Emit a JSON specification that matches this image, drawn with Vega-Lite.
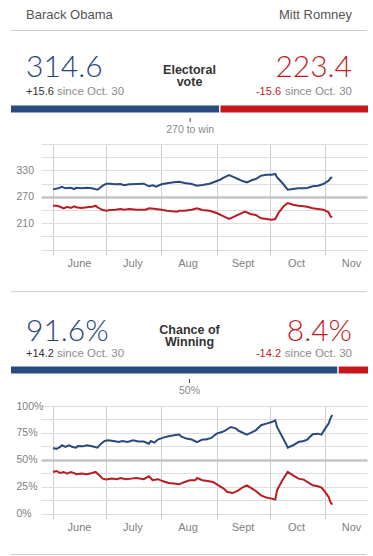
{
"$schema": "https://vega.github.io/schema/vega-lite/v6.json",
"padding": {"left": 7, "top": 0, "right": 0, "bottom": 0},
"background": "#ffffff",
"spacing": 0,
"resolve": {"scale": {"color": "independent"}},
"config": {"view": {"stroke": null}, "font": "Liberation Sans"},
"datasets": {
"header": [
{"candidate":"Obama","name":"Barack Obama","ev":314.6,"ev_change":"+15.6","win":0.916,"win_change":"+14.2"},
{"candidate":"Romney","name":"Mitt Romney","ev":223.4,"ev_change":"-15.6","win":0.084,"win_change":"-14.2"}
],
"ev": [
{"date":"2012-06-01","candidate":"Obama","value":287},{"date":"2012-06-04","candidate":"Obama","value":289.4},{"date":"2012-06-06","candidate":"Obama","value":293},{"date":"2012-06-08","candidate":"Obama","value":289.4},{"date":"2012-06-11","candidate":"Obama","value":290.8},{"date":"2012-06-13","candidate":"Obama","value":287.8},{"date":"2012-06-14","candidate":"Obama","value":290.8},{"date":"2012-06-17","candidate":"Obama","value":289.4},{"date":"2012-06-20","candidate":"Obama","value":290.8},{"date":"2012-06-23","candidate":"Obama","value":289.4},{"date":"2012-06-26","candidate":"Obama","value":286.2},{"date":"2012-06-29","candidate":"Obama","value":295.3},{"date":"2012-07-01","candidate":"Obama","value":299.9},{"date":"2012-07-03","candidate":"Obama","value":299.9},{"date":"2012-07-06","candidate":"Obama","value":298.5},{"date":"2012-07-09","candidate":"Obama","value":299.2},{"date":"2012-07-11","candidate":"Obama","value":296.2},{"date":"2012-07-14","candidate":"Obama","value":298.5},{"date":"2012-07-18","candidate":"Obama","value":299.2},{"date":"2012-07-22","candidate":"Obama","value":299.9},{"date":"2012-07-25","candidate":"Obama","value":294.0},{"date":"2012-07-27","candidate":"Obama","value":296.2},{"date":"2012-07-29","candidate":"Obama","value":293.0},{"date":"2012-08-01","candidate":"Obama","value":298.5},{"date":"2012-08-05","candidate":"Obama","value":301.4},{"date":"2012-08-08","candidate":"Obama","value":303.0},{"date":"2012-08-11","candidate":"Obama","value":304.4},{"date":"2012-08-14","candidate":"Obama","value":301.4},{"date":"2012-08-18","candidate":"Obama","value":299.2},{"date":"2012-08-21","candidate":"Obama","value":295.3},{"date":"2012-08-24","candidate":"Obama","value":296.9},{"date":"2012-08-28","candidate":"Obama","value":299.9},{"date":"2012-08-31","candidate":"Obama","value":304.4},{"date":"2012-09-03","candidate":"Obama","value":308.9},{"date":"2012-09-05","candidate":"Obama","value":313.5},{"date":"2012-09-08","candidate":"Obama","value":319.6},{"date":"2012-09-11","candidate":"Obama","value":314.4},{"date":"2012-09-13","candidate":"Obama","value":310.5},{"date":"2012-09-16","candidate":"Obama","value":305.3},{"date":"2012-09-18","candidate":"Obama","value":303.0},{"date":"2012-09-21","candidate":"Obama","value":308.3},{"date":"2012-09-23","candidate":"Obama","value":310.5},{"date":"2012-09-26","candidate":"Obama","value":318.0},{"date":"2012-09-29","candidate":"Obama","value":320.3},{"date":"2012-10-02","candidate":"Obama","value":320.3},{"date":"2012-10-04","candidate":"Obama","value":321.9},{"date":"2012-10-05","candidate":"Obama","value":314.4},{"date":"2012-10-08","candidate":"Obama","value":301.4},{"date":"2012-10-11","candidate":"Obama","value":286.2},{"date":"2012-10-14","candidate":"Obama","value":287.8},{"date":"2012-10-17","candidate":"Obama","value":289.4},{"date":"2012-10-20","candidate":"Obama","value":289.4},{"date":"2012-10-22","candidate":"Obama","value":290.1},{"date":"2012-10-25","candidate":"Obama","value":294.0},{"date":"2012-10-28","candidate":"Obama","value":295.3},{"date":"2012-10-31","candidate":"Obama","value":299.2},{"date":"2012-11-03","candidate":"Obama","value":306.7},{"date":"2012-11-04","candidate":"Obama","value":312.1},{"date":"2012-11-05","candidate":"Obama","value":314.6},
{"date":"2012-06-01","candidate":"Romney","value":250},{"date":"2012-06-03","candidate":"Romney","value":249.9},{"date":"2012-06-05","candidate":"Romney","value":247.6},{"date":"2012-06-07","candidate":"Romney","value":244.0},{"date":"2012-06-09","candidate":"Romney","value":247.6},{"date":"2012-06-11","candidate":"Romney","value":244.7},{"date":"2012-06-13","candidate":"Romney","value":248.5},{"date":"2012-06-14","candidate":"Romney","value":246.3},{"date":"2012-06-17","candidate":"Romney","value":244.7},{"date":"2012-06-20","candidate":"Romney","value":246.3},{"date":"2012-06-23","candidate":"Romney","value":247.6},{"date":"2012-06-25","candidate":"Romney","value":249.9},{"date":"2012-06-26","candidate":"Romney","value":246.3},{"date":"2012-06-29","candidate":"Romney","value":240.1},{"date":"2012-07-01","candidate":"Romney","value":238.5},{"date":"2012-07-03","candidate":"Romney","value":240.1},{"date":"2012-07-06","candidate":"Romney","value":240.8},{"date":"2012-07-09","candidate":"Romney","value":242.4},{"date":"2012-07-11","candidate":"Romney","value":240.8},{"date":"2012-07-14","candidate":"Romney","value":242.4},{"date":"2012-07-18","candidate":"Romney","value":240.8},{"date":"2012-07-23","candidate":"Romney","value":240.8},{"date":"2012-07-25","candidate":"Romney","value":244.0},{"date":"2012-07-29","candidate":"Romney","value":242.4},{"date":"2012-08-01","candidate":"Romney","value":240.8},{"date":"2012-08-04","candidate":"Romney","value":238.5},{"date":"2012-08-07","candidate":"Romney","value":237.2},{"date":"2012-08-10","candidate":"Romney","value":236.3},{"date":"2012-08-11","candidate":"Romney","value":238.5},{"date":"2012-08-14","candidate":"Romney","value":238.5},{"date":"2012-08-18","candidate":"Romney","value":240.8},{"date":"2012-08-21","candidate":"Romney","value":244.0},{"date":"2012-08-24","candidate":"Romney","value":240.1},{"date":"2012-08-28","candidate":"Romney","value":238.5},{"date":"2012-09-01","candidate":"Romney","value":233.3},{"date":"2012-09-05","candidate":"Romney","value":225.8},{"date":"2012-09-08","candidate":"Romney","value":219.7},{"date":"2012-09-10","candidate":"Romney","value":223.6},{"date":"2012-09-13","candidate":"Romney","value":229},{"date":"2012-09-17","candidate":"Romney","value":236.3},{"date":"2012-09-20","candidate":"Romney","value":231.1},{"date":"2012-09-23","candidate":"Romney","value":228.8},{"date":"2012-09-26","candidate":"Romney","value":221.3},{"date":"2012-09-29","candidate":"Romney","value":219.7},{"date":"2012-10-02","candidate":"Romney","value":218.1},{"date":"2012-10-04","candidate":"Romney","value":219.7},{"date":"2012-10-06","candidate":"Romney","value":234.9},{"date":"2012-10-09","candidate":"Romney","value":250.0},{"date":"2012-10-11","candidate":"Romney","value":256.0},{"date":"2012-10-14","candidate":"Romney","value":252.2},{"date":"2012-10-17","candidate":"Romney","value":250.0},{"date":"2012-10-20","candidate":"Romney","value":248.5},{"date":"2012-10-22","candidate":"Romney","value":247.6},{"date":"2012-10-25","candidate":"Romney","value":244.0},{"date":"2012-10-28","candidate":"Romney","value":242.4},{"date":"2012-10-31","candidate":"Romney","value":240.8},{"date":"2012-11-03","candidate":"Romney","value":234.9},{"date":"2012-11-04","candidate":"Romney","value":225.8},{"date":"2012-11-05","candidate":"Romney","value":223.4}
],
"chance": [
{"date":"2012-06-01","candidate":"Obama","value":61},{"date":"2012-06-03","candidate":"Obama","value":60.1},{"date":"2012-06-05","candidate":"Obama","value":61.9},{"date":"2012-06-06","candidate":"Obama","value":63.5},{"date":"2012-06-08","candidate":"Obama","value":61.9},{"date":"2012-06-10","candidate":"Obama","value":63.5},{"date":"2012-06-12","candidate":"Obama","value":61.9},{"date":"2012-06-14","candidate":"Obama","value":61.3},{"date":"2012-06-15","candidate":"Obama","value":62.8},{"date":"2012-06-18","candidate":"Obama","value":62.5},{"date":"2012-06-20","candidate":"Obama","value":63.5},{"date":"2012-06-23","candidate":"Obama","value":62.5},{"date":"2012-06-26","candidate":"Obama","value":61.3},{"date":"2012-06-28","candidate":"Obama","value":65.0},{"date":"2012-06-30","candidate":"Obama","value":67.5},{"date":"2012-07-02","candidate":"Obama","value":68.1},{"date":"2012-07-05","candidate":"Obama","value":67.5},{"date":"2012-07-08","candidate":"Obama","value":66.5},{"date":"2012-07-10","candidate":"Obama","value":67.5},{"date":"2012-07-13","candidate":"Obama","value":66.5},{"date":"2012-07-16","candidate":"Obama","value":68.1},{"date":"2012-07-19","candidate":"Obama","value":67},{"date":"2012-07-22","candidate":"Obama","value":67},{"date":"2012-07-25","candidate":"Obama","value":65.0},{"date":"2012-07-26","candidate":"Obama","value":67.5},{"date":"2012-07-28","candidate":"Obama","value":66.0},{"date":"2012-07-30","candidate":"Obama","value":68.8},{"date":"2012-08-02","candidate":"Obama","value":70.6},{"date":"2012-08-05","candidate":"Obama","value":71.8},{"date":"2012-08-08","candidate":"Obama","value":72.8},{"date":"2012-08-11","candidate":"Obama","value":73.4},{"date":"2012-08-12","candidate":"Obama","value":71.8},{"date":"2012-08-15","candidate":"Obama","value":69.7},{"date":"2012-08-18","candidate":"Obama","value":68.8},{"date":"2012-08-21","candidate":"Obama","value":66.5},{"date":"2012-08-24","candidate":"Obama","value":68.8},{"date":"2012-08-26","candidate":"Obama","value":68.8},{"date":"2012-08-29","candidate":"Obama","value":70.3},{"date":"2012-09-01","candidate":"Obama","value":74.3},{"date":"2012-09-04","candidate":"Obama","value":75.8},{"date":"2012-09-06","candidate":"Obama","value":77.4},{"date":"2012-09-09","candidate":"Obama","value":80.5},{"date":"2012-09-12","candidate":"Obama","value":79.0},{"date":"2012-09-13","candidate":"Obama","value":77.4},{"date":"2012-09-16","candidate":"Obama","value":74.9},{"date":"2012-09-18","candidate":"Obama","value":73.4},{"date":"2012-09-21","candidate":"Obama","value":75.8},{"date":"2012-09-23","candidate":"Obama","value":77.4},{"date":"2012-09-26","candidate":"Obama","value":82.1},{"date":"2012-09-29","candidate":"Obama","value":83.6},{"date":"2012-10-02","candidate":"Obama","value":85.1},{"date":"2012-10-04","candidate":"Obama","value":86.7},{"date":"2012-10-05","candidate":"Obama","value":80.5},{"date":"2012-10-08","candidate":"Obama","value":71.2},{"date":"2012-10-10","candidate":"Obama","value":65.0},{"date":"2012-10-11","candidate":"Obama","value":61.3},{"date":"2012-10-14","candidate":"Obama","value":63.5},{"date":"2012-10-17","candidate":"Obama","value":66.5},{"date":"2012-10-20","candidate":"Obama","value":67.5},{"date":"2012-10-22","candidate":"Obama","value":68.8},{"date":"2012-10-25","candidate":"Obama","value":73.7},{"date":"2012-10-28","candidate":"Obama","value":74.3},{"date":"2012-10-30","candidate":"Obama","value":73.4},{"date":"2012-11-01","candidate":"Obama","value":79.0},{"date":"2012-11-03","candidate":"Obama","value":83.6},{"date":"2012-11-04","candidate":"Obama","value":88.3},{"date":"2012-11-05","candidate":"Obama","value":91.6},
{"date":"2012-06-01","candidate":"Romney","value":38.7},{"date":"2012-06-03","candidate":"Romney","value":39.6},{"date":"2012-06-05","candidate":"Romney","value":37.7},{"date":"2012-06-07","candidate":"Romney","value":38.7},{"date":"2012-06-09","candidate":"Romney","value":37.2},{"date":"2012-06-11","candidate":"Romney","value":38.7},{"date":"2012-06-13","candidate":"Romney","value":37.7},{"date":"2012-06-14","candidate":"Romney","value":36.5},{"date":"2012-06-17","candidate":"Romney","value":37.2},{"date":"2012-06-20","candidate":"Romney","value":36.5},{"date":"2012-06-23","candidate":"Romney","value":37.7},{"date":"2012-06-25","candidate":"Romney","value":38.7},{"date":"2012-06-27","candidate":"Romney","value":35.6},{"date":"2012-06-29","candidate":"Romney","value":32.5},{"date":"2012-07-01","candidate":"Romney","value":31.6},{"date":"2012-07-04","candidate":"Romney","value":32.5},{"date":"2012-07-07","candidate":"Romney","value":32.0},{"date":"2012-07-09","candidate":"Romney","value":33.1},{"date":"2012-07-12","candidate":"Romney","value":32.0},{"date":"2012-07-15","candidate":"Romney","value":32.5},{"date":"2012-07-18","candidate":"Romney","value":33.1},{"date":"2012-07-22","candidate":"Romney","value":32.0},{"date":"2012-07-25","candidate":"Romney","value":34.7},{"date":"2012-07-27","candidate":"Romney","value":31.0},{"date":"2012-07-30","candidate":"Romney","value":32.0},{"date":"2012-08-02","candidate":"Romney","value":30.0},{"date":"2012-08-05","candidate":"Romney","value":28.4},{"date":"2012-08-08","candidate":"Romney","value":27.9},{"date":"2012-08-11","candidate":"Romney","value":27.2},{"date":"2012-08-14","candidate":"Romney","value":29.4},{"date":"2012-08-17","candidate":"Romney","value":31.0},{"date":"2012-08-20","candidate":"Romney","value":31.0},{"date":"2012-08-21","candidate":"Romney","value":33.1},{"date":"2012-08-24","candidate":"Romney","value":31.0},{"date":"2012-08-27","candidate":"Romney","value":30.3},{"date":"2012-08-30","candidate":"Romney","value":29.4},{"date":"2012-09-02","candidate":"Romney","value":26.3},{"date":"2012-09-05","candidate":"Romney","value":23.2},{"date":"2012-09-07","candidate":"Romney","value":20.1},{"date":"2012-09-10","candidate":"Romney","value":19.1},{"date":"2012-09-13","candidate":"Romney","value":21.3},{"date":"2012-09-16","candidate":"Romney","value":24.7},{"date":"2012-09-18","candidate":"Romney","value":26.3},{"date":"2012-09-21","candidate":"Romney","value":23.2},{"date":"2012-09-23","candidate":"Romney","value":21.0},{"date":"2012-09-26","candidate":"Romney","value":17.0},{"date":"2012-09-29","candidate":"Romney","value":14.9},{"date":"2012-10-02","candidate":"Romney","value":13.9},{"date":"2012-10-04","candidate":"Romney","value":13.0},{"date":"2012-10-05","candidate":"Romney","value":21.7},{"date":"2012-10-08","candidate":"Romney","value":31.0},{"date":"2012-10-11","candidate":"Romney","value":38.7},{"date":"2012-10-14","candidate":"Romney","value":35.6},{"date":"2012-10-17","candidate":"Romney","value":32.5},{"date":"2012-10-20","candidate":"Romney","value":31.6},{"date":"2012-10-22","candidate":"Romney","value":29.4},{"date":"2012-10-25","candidate":"Romney","value":26.3},{"date":"2012-10-28","candidate":"Romney","value":25.4},{"date":"2012-10-30","candidate":"Romney","value":24.2},{"date":"2012-11-01","candidate":"Romney","value":20.1},{"date":"2012-11-03","candidate":"Romney","value":15.4},{"date":"2012-11-04","candidate":"Romney","value":10.8},{"date":"2012-11-05","candidate":"Romney","value":8.4}
]
},
"vconcat": [
{"width":326,"height":30,"data":{"name":"header"},"layer":[
 {"transform":[{"filter":"datum.candidate === 'Obama'"}],"mark":{"type":"text","align":"left","baseline":"middle","dx":15,"fontSize":13,"fill":"#555555"},"encoding":{"x":{"datum":0,"type":"quantitative","scale":{"domain":[45.21,536.49],"nice":false,"zero":false},"axis":null},"text":{"field":"name"}}},
 {"transform":[{"filter":"datum.candidate === 'Romney'"}],"mark":{"type":"text","align":"right","baseline":"middle","dx":-16,"fontSize":13,"fill":"#555555"},"encoding":{"x":{"datum":538,"type":"quantitative"},"text":{"field":"name"}}}
]},
{"width":326,"height":1,"data":{"name":"header"},"transform":[{"filter":"datum.candidate === 'Obama'"}],"mark":{"type":"rule","stroke":"#cccccc","strokeWidth":1},"encoding":{"x":{"datum":0,"type":"quantitative","scale":{"domain":[45.21,536.49],"nice":false,"zero":false},"axis":null},"x2":{"datum":536}}},
{"width":326,"height":69.5,"data":{"name":"header"},"layer":[
 {"transform":[{"filter":"datum.candidate === 'Obama'"}],"mark":{"type":"text","align":"left","baseline":"alphabetic","dx":15,"dy":11.5,"fontSize":30,"font":"Lato","fontWeight":300,"fill":"#26457d"},"encoding":{"x":{"datum":0,"type":"quantitative","scale":{"domain":[45.21,536.49],"nice":false,"zero":false},"axis":null},"text":{"field":"ev","format":".1f"}}},
 {"transform":[{"filter":"datum.candidate === 'Romney'"}],"mark":{"type":"text","align":"right","baseline":"alphabetic","dx":-16,"dy":11.5,"fontSize":30,"font":"Lato","fontWeight":300,"fill":"#bf1b1f"},"encoding":{"x":{"datum":538,"type":"quantitative"},"text":{"field":"ev","format":".1f"}}},
 {"transform":[{"filter":"datum.candidate === 'Obama'"}],"mark":{"type":"text","align":"left","baseline":"alphabetic","dx":15,"dy":29.25,"fontSize":11,"fill":"#333333"},"encoding":{"x":{"datum":0,"type":"quantitative"},"text":{"field":"ev_change"}}},
 {"transform":[{"filter":"datum.candidate === 'Obama'"}],"mark":{"type":"text","align":"left","baseline":"alphabetic","dx":46,"dy":29.25,"fontSize":11.5,"fill":"#8c8c8c","text":"since Oct. 30"},"encoding":{"x":{"datum":0,"type":"quantitative"}}},
 {"transform":[{"filter":"datum.candidate === 'Romney'"}],"mark":{"type":"text","align":"right","baseline":"alphabetic","dx":-87,"dy":29.25,"fontSize":11,"fill":"#bf1b1f"},"encoding":{"x":{"datum":538,"type":"quantitative"},"text":{"field":"ev_change"}}},
 {"transform":[{"filter":"datum.candidate === 'Romney'"}],"mark":{"type":"text","align":"right","baseline":"alphabetic","dx":-16,"dy":29.25,"fontSize":11.5,"fill":"#8c8c8c","text":"since Oct. 30"},"encoding":{"x":{"datum":538,"type":"quantitative"}}},
 {"transform":[{"filter":"datum.candidate === 'Obama'"}],"mark":{"type":"text","align":"center","baseline":"middle","dy":3.75,"fontSize":12.5,"fontWeight":"bold","lineHeight":12.5,"fill":"#333333","text":["Electoral","vote"]},"encoding":{"x":{"datum":269,"type":"quantitative"}}}
]},
{"width":326,"height":14,"data":{"name":"header"},"transform":[{"stack":"ev","groupby":[],"sort":[{"field":"candidate","order":"ascending"}],"as":["ev_start","ev_end"]}],"layer":[
 {"mark":{"type":"rule","strokeWidth":7,"strokeCap":"butt"},"encoding":{"x":{"field":"ev_start","type":"quantitative","scale":{"domain":[45.21,536.49],"nice":false,"zero":false},"axis":null},"x2":{"field":"ev_end"},"color":{"field":"candidate","type":"nominal","scale":{"domain":["Obama","Romney"],"range":["#2a4b80","#c8161d"]},"legend":null}}},
 {"transform":[{"filter":"datum.candidate === 'Obama'"}],"mark":{"type":"rule","strokeWidth":1.5,"stroke":"#ffffff"},"encoding":{"x":{"field":"ev_end","type":"quantitative"}}}
]},
{"width":326,"height":4,"data":{"name":"header"},"transform":[{"filter":"datum.candidate === 'Obama'"}],"mark":{"type":"rule","stroke":"#444444","strokeWidth":1},"encoding":{"x":{"datum":270,"type":"quantitative","scale":{"domain":[45.21,536.49],"nice":false,"zero":false},"axis":null}}},
{"width":326,"height":21,"data":{"name":"header"},"transform":[{"filter":"datum.candidate === 'Obama'"}],"mark":{"type":"text","align":"center","baseline":"middle","dy":-4,"fontSize":10.5,"fill":"#888888","text":"270 to win"},"encoding":{"x":{"datum":270,"type":"quantitative","scale":{"domain":[45.21,536.49],"nice":false,"zero":false},"axis":null}}},
{"width":326,"height":105.7,"data":{"name":"ev"},"mark":{"type":"line","strokeWidth":2},"encoding":{
 "x":{"field":"date","type":"temporal","scale":{"domain":[{"year":2012,"month":5,"date":25,"hours":6},{"year":2012,"month":11,"date":24,"hours":14}]},"axis":{"title":null,"tickCount":{"interval":"month","step":1},"grid":true,"gridColor":"#cdcdcd","ticks":true,"tickSize":5,"tickColor":"#cdcdcd","domain":false,"labelOffset":26,"labelFlush":false,"labelOverlap":false,"labelPadding":3,"labelColor":"#808080","labelFontSize":11,"labelExpr":"['Jan','Feb','Mar','Apr','May','June','July','Aug','Sept','Oct','Nov','Dec'][month(datum.value)]"}},
 "y":{"field":"value","type":"quantitative","scale":{"domain":[150,390],"nice":false,"zero":false},"axis":{"title":null,"values":[150,180,210,240,270,300,330,360,390],"labelExpr":"indexof([210,270,330], datum.value) >= 0 ? datum.label : ''","grid":true,"gridColor":{"condition":{"test":"datum.value === 270","value":"#c4c4c4"},"value":"#dedede"},"gridWidth":{"condition":{"test":"datum.value === 270","value":2.5},"value":1},"ticks":false,"domain":false,"labelAlign":"left","labelPadding":25,"labelColor":"#808080","labelFontSize":10.5,"minExtent":30,"maxExtent":30}},
 "color":{"field":"candidate","type":"nominal","scale":{"domain":["Obama","Romney"],"range":["#2a4a7f","#b81c20"]},"legend":null}
}},
{"width":326,"height":45.4,"data":{"name":"header"},"transform":[{"filter":"datum.candidate === 'Obama'"}],"mark":{"type":"rule","stroke":"#cccccc","strokeWidth":1},"encoding":{"x":{"datum":0,"type":"quantitative","scale":{"domain":[45.21,536.49],"nice":false,"zero":false},"axis":null},"x2":{"datum":536}}},
{"width":326,"height":46.9,"data":{"name":"header"},"layer":[
 {"transform":[{"filter":"datum.candidate === 'Obama'"}],"mark":{"type":"text","align":"left","baseline":"alphabetic","dx":15,"dy":2.15,"fontSize":30,"font":"Lato","fontWeight":300,"fill":"#26457d"},"encoding":{"x":{"datum":0,"type":"quantitative","scale":{"domain":[0.08403,0.9972],"nice":false,"zero":false},"axis":null},"text":{"field":"win","format":".1%"}}},
 {"transform":[{"filter":"datum.candidate === 'Romney'"}],"mark":{"type":"text","align":"right","baseline":"alphabetic","dx":-16,"dy":2.15,"fontSize":30,"font":"Lato","fontWeight":300,"fill":"#bf1b1f"},"encoding":{"x":{"datum":1,"type":"quantitative"},"text":{"field":"win","format":".1%"}}},
 {"transform":[{"filter":"datum.candidate === 'Obama'"}],"mark":{"type":"text","align":"left","baseline":"alphabetic","dx":15,"dy":18.45,"fontSize":11,"fill":"#333333"},"encoding":{"x":{"datum":0,"type":"quantitative"},"text":{"field":"win_change"}}},
 {"transform":[{"filter":"datum.candidate === 'Obama'"}],"mark":{"type":"text","align":"left","baseline":"alphabetic","dx":46,"dy":18.45,"fontSize":11.5,"fill":"#8c8c8c","text":"since Oct. 30"},"encoding":{"x":{"datum":0,"type":"quantitative"}}},
 {"transform":[{"filter":"datum.candidate === 'Romney'"}],"mark":{"type":"text","align":"right","baseline":"alphabetic","dx":-87,"dy":18.45,"fontSize":11,"fill":"#bf1b1f"},"encoding":{"x":{"datum":1,"type":"quantitative"},"text":{"field":"win_change"}}},
 {"transform":[{"filter":"datum.candidate === 'Romney'"}],"mark":{"type":"text","align":"right","baseline":"alphabetic","dx":-16,"dy":18.45,"fontSize":11.5,"fill":"#8c8c8c","text":"since Oct. 30"},"encoding":{"x":{"datum":1,"type":"quantitative"}}},
 {"transform":[{"filter":"datum.candidate === 'Obama'"}],"mark":{"type":"text","align":"center","baseline":"middle","dy":-8.6,"fontSize":12.5,"fontWeight":"bold","lineHeight":12.5,"fill":"#333333","text":["Chance of","Winning"]},"encoding":{"x":{"datum":0.5,"type":"quantitative"}}}
]},
{"width":326,"height":14,"data":{"name":"header"},"transform":[{"stack":"win","groupby":[],"sort":[{"field":"candidate","order":"ascending"}],"as":["win_start","win_end"]}],"layer":[
 {"mark":{"type":"rule","strokeWidth":7,"strokeCap":"butt"},"encoding":{"x":{"field":"win_start","type":"quantitative","scale":{"domain":[0.08403,0.9972],"nice":false,"zero":false},"axis":null},"x2":{"field":"win_end"},"color":{"field":"candidate","type":"nominal","scale":{"domain":["Obama","Romney"],"range":["#2a4b80","#c8161d"]},"legend":null}}},
 {"transform":[{"filter":"datum.candidate === 'Obama'"}],"mark":{"type":"rule","strokeWidth":1.5,"stroke":"#ffffff"},"encoding":{"x":{"field":"win_end","type":"quantitative"}}}
]},
{"width":326,"height":4,"data":{"name":"header"},"transform":[{"filter":"datum.candidate === 'Obama'"}],"mark":{"type":"rule","stroke":"#444444","strokeWidth":1},"encoding":{"x":{"datum":0.5,"type":"quantitative","scale":{"domain":[0.08403,0.9972],"nice":false,"zero":false},"axis":null}}},
{"width":326,"height":16.4,"data":{"name":"header"},"transform":[{"filter":"datum.candidate === 'Obama'"}],"mark":{"type":"text","align":"center","baseline":"middle","dy":-1.5,"fontSize":10.5,"fill":"#888888","text":"50%"},"encoding":{"x":{"datum":0.5,"type":"quantitative","scale":{"domain":[0.08403,0.9972],"nice":false,"zero":false},"axis":null}}},
{"width":326,"height":107.6,"data":{"name":"chance"},"mark":{"type":"line","strokeWidth":2},"encoding":{
 "x":{"field":"date","type":"temporal","scale":{"domain":[{"year":2012,"month":5,"date":25,"hours":6},{"year":2012,"month":11,"date":24,"hours":14}]},"axis":{"title":null,"tickCount":{"interval":"month","step":1},"grid":true,"gridColor":"#cdcdcd","ticks":true,"tickSize":5,"tickColor":"#cdcdcd","domain":false,"labelOffset":26,"labelFlush":false,"labelOverlap":false,"labelPadding":3,"labelColor":"#808080","labelFontSize":11,"labelExpr":"['Jan','Feb','Mar','Apr','May','June','July','Aug','Sept','Oct','Nov','Dec'][month(datum.value)]"}},
 "y":{"field":"value","type":"quantitative","scale":{"domain":[0,100],"nice":false,"zero":false},"axis":{"title":null,"values":[0,12.5,25,37.5,50,62.5,75,87.5,100],"labelExpr":"datum.value % 25 === 0 ? datum.value + '%' : ''","grid":true,"gridColor":{"condition":{"test":"datum.value === 50","value":"#c4c4c4"},"value":"#dedede"},"gridWidth":{"condition":{"test":"datum.value === 50","value":2.5},"value":1},"ticks":false,"domain":false,"labelAlign":"left","labelPadding":25,"labelColor":"#808080","labelFontSize":10.5,"minExtent":30,"maxExtent":30}},
 "color":{"field":"candidate","type":"nominal","scale":{"domain":["Obama","Romney"],"range":["#2a4a7f","#b81c20"]},"legend":null}
}},
{"width":326,"height":20.7,"data":{"name":"header"},"transform":[{"filter":"datum.candidate === 'Obama'"}],"mark":{"type":"rule","strokeOpacity":0},"encoding":{"x":{"datum":0,"type":"quantitative","scale":{"domain":[45.21,536.49],"nice":false,"zero":false},"axis":null},"x2":{"datum":536}}},
{"width":326,"height":1,"data":{"name":"header"},"transform":[{"filter":"datum.candidate === 'Obama'"}],"mark":{"type":"rule","stroke":"#cccccc","strokeWidth":1},"encoding":{"x":{"datum":0,"type":"quantitative","scale":{"domain":[45.21,536.49],"nice":false,"zero":false},"axis":null},"x2":{"datum":536}}}
]
}
